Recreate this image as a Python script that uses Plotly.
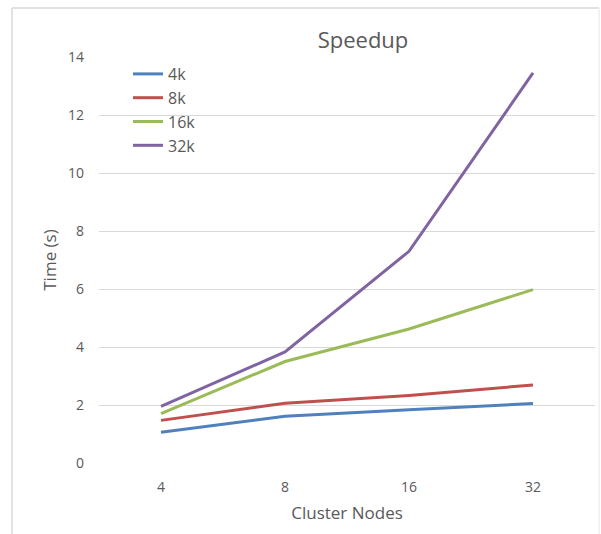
import plotly.graph_objects as go

nodes = ["4", "8", "16", "32"]
series_names = ["4k", "8k", "16k", "32k"]
t_4k = [1.06, 1.61, 1.84, 2.05]
t_8k = [1.47, 2.06, 2.33, 2.69]
t_16k = [1.70, 3.50, 4.62, 5.98]
t_32k = [1.95, 3.83, 7.30, 13.45]
colors = ["#4F81BD", "#C0504D", "#9BBB59", "#8064A2"]

fig = go.Figure()
for name, vals, c in zip(series_names, [t_4k, t_8k, t_16k, t_32k], colors):
    fig.add_trace(go.Scatter(x=nodes, y=vals, mode="lines", name=name,
                             line=dict(color=c, width=3)))

font_family = "Open Sans, Liberation Sans, sans-serif"
grey = "#595959"

fig.update_layout(
    width=601, height=534,
    margin=dict(l=99, r=6, t=57, b=71),
    paper_bgcolor="white", plot_bgcolor="white",
    font=dict(family=font_family, color=grey, size=14),
    title=dict(text="Speedup", x=(363 - 99) / 496, xref="paper", xanchor="center",
               y=1 - 40 / 534, yanchor="middle",
               font=dict(size=22, color=grey, family=font_family)),
    showlegend=True,
    legend=dict(x=(128 - 99) / 496, y=(463 - 57) / 406, xanchor="left", yanchor="top",
                bgcolor="rgba(0,0,0,0)", font=dict(size=16, color=grey),
                tracegroupgap=0, itemwidth=30),
    xaxis=dict(type="category", range=[-0.5, 3.5],
               title=dict(text="Cluster Nodes", font=dict(size=17, color=grey), standoff=12),
               showgrid=False, showline=False, ticks="", zeroline=False,
               tickfont=dict(size=14, color=grey), ticklabelstandoff=14),
    yaxis=dict(range=[0, 14], dtick=2, showgrid=True, gridcolor="#D9D9D9", gridwidth=1,
               zeroline=False, showline=False, ticks="",
               title=dict(text="Time (s)", font=dict(size=17, color=grey), standoff=7),
               tickfont=dict(size=14, color=grey), ticklabelstandoff=14),
    shapes=[
        dict(type="line", xref="paper", yref="paper", x0=(12 - 99) / 496, x1=(12 - 99) / 496,
             y0=(463 - 8) / 406, y1=-0.3, line=dict(color="#D9D9D9", width=1.5)),
        dict(type="line", xref="paper", yref="paper", x0=(12 - 99) / 496, x1=(599 - 99) / 496,
             y0=(463 - 8) / 406, y1=(463 - 8) / 406, line=dict(color="#D9D9D9", width=1.5)),
        dict(type="line", xref="paper", yref="paper", x0=(599 - 99) / 496, x1=(599 - 99) / 496,
             y0=(463 - 8) / 406, y1=-0.3, line=dict(color="#E6E6E6", width=1)),
    ],
)

fig.write_html("out.html", config={"displayModeBar": False},
               post_script="document.body.style.margin='0';document.body.style.padding='0';")
